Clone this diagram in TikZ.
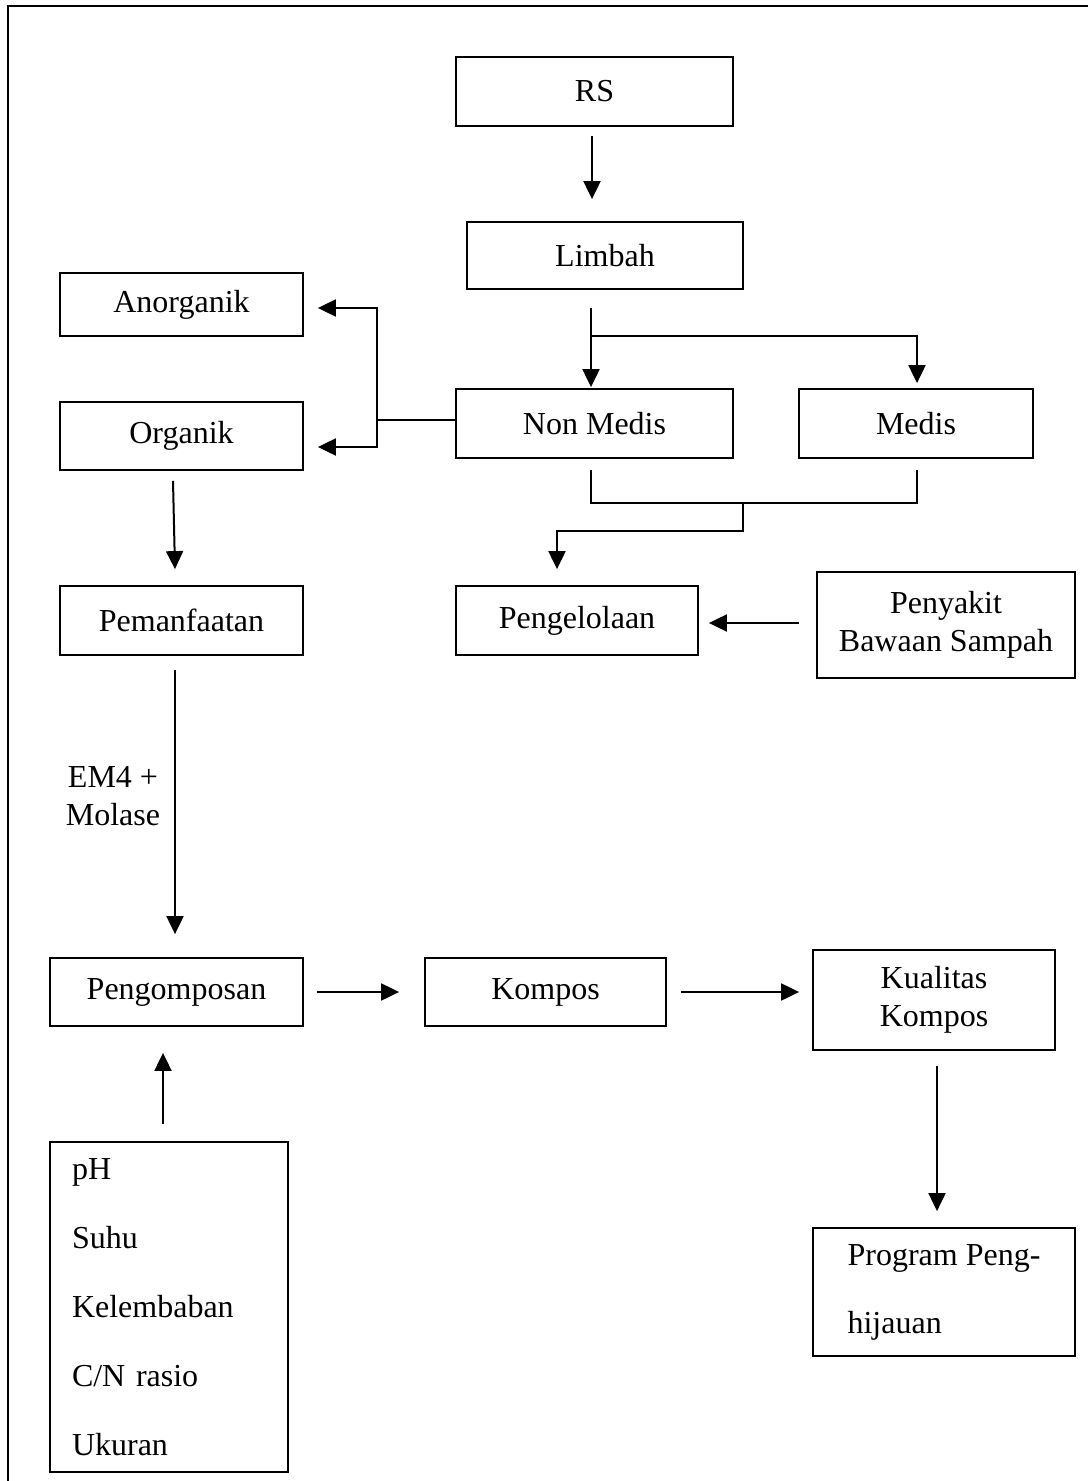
\documentclass[tikz,border=0pt]{standalone}
\usepackage{fontspec}
\setmainfont{Liberation Serif}
\usetikzlibrary{arrows.meta}
\begin{document}
\begin{tikzpicture}[x=0.5pt,y=-0.5pt,
  every node/.style={font=\fontsize{16}{19}\selectfont},
  box/.style={draw,line width=0.9pt,inner sep=0pt,align=center},
  arr/.style={line width=1pt,-{Triangle[length=9pt,width=8.5pt]}},
  ln/.style={line width=1pt},
  frame/.style={line width=1pt}]
\useasboundingbox (0,0) rectangle (1087,1481);
\draw[frame] (8,1490) -- (8,6) -- (1095,6);

\node[box,minimum width=138.5pt,minimum height=34.5pt] (rs) at (594.5,91.5) {RS};
\node[box,minimum width=138pt,minimum height=33.5pt] (lim) at (605,255.5) {Limbah};
\node[box,minimum width=121.5pt,minimum height=31.5pt] (ano) at (181.5,304.5) {Anorganik};
\node[box,minimum width=121.5pt,minimum height=34pt] (org) at (181.5,436) {Organik};
\node[box,minimum width=138.5pt,minimum height=34.5pt] (nm) at (594.5,423.5) {Non Medis};
\node[box,minimum width=117pt,minimum height=34.5pt] (med) at (916,423.5) {Medis};
\node[box,minimum width=121.5pt,minimum height=34.5pt] (pem) at (181.5,620.5) {Pemanfaatan};
\node[box,minimum width=121pt,minimum height=34.5pt] (pgl) at (577,620.5) {Pengelolaan};
\node[box,minimum width=129pt,minimum height=53pt] (pen) at (946,625) {Penyakit\\Bawaan Sampah};
\node[box,minimum width=126.5pt,minimum height=34pt] (pgo) at (176.5,992) {Pengomposan};
\node[box,minimum width=120.5pt,minimum height=34pt] (kom) at (545.5,992) {Kompos};
\node[box,minimum width=121pt,minimum height=50pt] (kua) at (934,1000) {Kualitas\\Kompos};
\node[box,minimum width=131pt,minimum height=64pt,align=left] (prog) at (944,1292) {Program Peng-\\[15pt]hijauan};
\node[box,align=left,text width=97pt,inner xsep=11pt,minimum height=165pt] (lst) at (169,1307)
  {pH\\[15.5pt]Suhu\\[15.5pt]Kelembaban\\[15.5pt]C/N rasio\\[15.5pt]Ukuran};
\node[align=center] (em) at (113,796) {EM4 +\\Molase};

% connectors
\draw[arr] ([shift={(-2.5,9)}]rs.south) -- ([shift={(-13,-22)}]lim.north);
\draw[arr] ([shift={(-14,18)}]lim.south) -- ([shift={(-3.5,-1)}]nm.north);
\draw[arr] ([shift={(-14,46)}]lim.south) -| ([shift={(1,-5)}]med.north);

\coordinate (jn) at (377,420);
\draw[arr] ([shift={(0,-3.5)}]nm.west) -- (jn) |- ([shift={(14,3.5)}]ano.east);
\draw[arr] (jn) |- ([shift={(14,11)}]org.east);

\draw[arr] ([shift={(-8.5,10)}]org.south) -- ([shift={(-6.5,-16)}]pem.north);

\coordinate (mj) at (743,502);
\draw[ln] ([shift={(-3.5,11)}]nm.south) -- ++(0,33) -| ([shift={(1,11)}]med.south);
\draw[arr] (mj) -- ++(0,29) -| ([shift={(-20,-16)}]pgl.north);

\draw[arr] ([shift={(-17,-2)}]pen.west) -- ([shift={(10,2.5)}]pgl.east);

\draw[arr] ([shift={(-6.5,14)}]pem.south) -- ([shift={(-1.5,-23)}]pgo.north);

\draw[arr] ([shift={(13,0)}]pgo.east) -- ([shift={(-25,0)}]kom.west);
\draw[arr] ([shift={(14,0)}]kom.east) -- ([shift={(-13,-8)}]kua.west);
\draw[arr] ([shift={(3,15)}]kua.south) -- ([shift={(-7,-16)}]prog.north);
\draw[arr] ([shift={(-6,-17)}]lst.north) -- ([shift={(-13.5,26)}]pgo.south);
\end{tikzpicture}
\end{document}
